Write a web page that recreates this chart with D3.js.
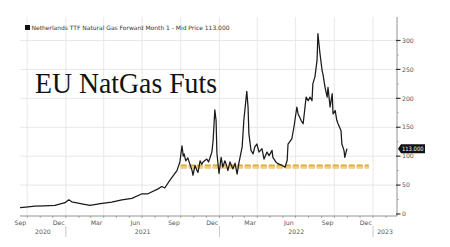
<!DOCTYPE html>
<html>
<head>
<meta charset="utf-8">
<script src="https://cdnjs.cloudflare.com/ajax/libs/d3/7.8.5/d3.min.js"></script>
<style>
  html, body { margin: 0; padding: 0; background: #fff; }
  svg { display: block; }
  .tick-label { font-family: "DejaVu Sans", sans-serif; font-size: 6.2px; fill: #555; }
</style>
</head>
<body>
<svg id="chart" width="450" height="247"></svg>
<script>
// ===== 데이터 =====
const dates = [
  "2020-09-14","2020-09-28","2020-10-19","2020-11-10","2020-12-06","2020-12-30",
  "2021-01-08","2021-01-15","2021-02-08","2021-02-27","2021-03-28","2021-04-20",
  "2021-05-14","2021-06-07","2021-07-01","2021-07-15","2021-08-08","2021-08-17",
  "2021-08-24","2021-09-05","2021-09-22","2021-09-29","2021-10-04","2021-10-07",
  "2021-10-09","2021-10-13","2021-10-18","2021-10-22","2021-10-28","2021-10-30",
  "2021-11-04","2021-11-08","2021-11-11","2021-11-16","2021-11-20","2021-11-23",
  "2021-12-02","2021-12-06","2021-12-09","2021-12-14","2021-12-17","2021-12-21",
  "2021-12-24","2021-12-26","2021-12-31","2022-01-05","2022-01-09","2022-01-14",
  "2022-01-18","2022-01-21","2022-01-26","2022-02-02","2022-02-07","2022-02-12",
  "2022-02-16","2022-02-24","2022-02-28","2022-03-07","2022-03-10","2022-03-12",
  "2022-03-17","2022-03-22","2022-03-26","2022-03-31","2022-04-05","2022-04-12",
  "2022-04-17","2022-04-24","2022-04-29","2022-05-06","2022-05-08","2022-05-15",
  "2022-05-20","2022-05-30","2022-06-06","2022-06-11","2022-06-13","2022-06-22",
  "2022-06-27","2022-07-04","2022-07-07","2022-07-14","2022-07-19","2022-07-26",
  "2022-07-31","2022-08-04","2022-08-09","2022-08-11","2022-08-16","2022-08-21",
  "2022-08-23","2022-08-28","2022-09-02","2022-09-04","2022-09-09","2022-09-14",
  "2022-09-16","2022-09-21","2022-09-26","2022-09-28","2022-10-03","2022-10-07",
  "2022-10-10","2022-10-17","2022-10-19","2022-10-24","2022-10-26","2022-10-31"
];
const prices = [
  11, 12, 13.5, 14, 15, 19.5,
  24.5, 21, 17.5, 15, 18.5, 20.5,
  24.5, 27, 35, 35, 43.5, 47.5,
  45, 58, 75, 90, 118, 100,
  104, 92, 97, 88, 75, 67,
  84, 76, 72, 92, 86, 90,
  95, 90, 96, 107, 127, 180,
  162, 105, 70, 98, 81, 92,
  84, 75, 90, 78, 88, 69,
  87, 116, 162, 212, 185, 139,
  110, 104, 116, 121, 107, 113,
  95, 107, 101, 110, 98, 90,
  87, 84, 81, 93, 121, 130,
  150, 185, 173, 162, 156, 202,
  196, 202, 196, 225, 237, 266,
  312, 277, 248, 242, 219, 202,
  219, 185, 208, 173, 179, 162,
  156, 144, 121, 110, 98, 113
];
const yTicks = [0, 50, 100, 150, 200, 250, 300];
const years = [2020, 2021, 2022, 2023];
const supportLevel = 82;               // 노란 점선 (지지선)
const supportRange = ["2021-10-01", "2022-12-22"];
const lastValue = 113;
const lastPrice = "113.000";
const titleText = "EU NatGas Futs";
const legendText = "Netherlands TTF Natural Gas Forward Month 1 - Mid Price 113.000";

// ===== 기본 설정 =====
const parse = d3.utcParse("%Y-%m-%d");
const svg = d3.select("#chart");
const plotLeft = 20, plotRight = 397, plotTop = 17, plotBottom = 216;

const x = d3.scaleUtc()
  .domain([parse("2020-09-14"), parse("2023-02-27")])
  .range([plotLeft, plotRight]);
const y = d3.scaleLinear().domain([0, 300]).range([214, 40.5]);

// 격자선 (분기 경계 세로선, 50 단위 가로선)
const grid = svg.append("g");
const quarterLines = d3.utcMonth.range(x.domain()[0], x.domain()[1])
  .filter(d => d.getUTCMonth() % 3 === 0);
grid.selectAll(".vg").data(quarterLines).join("line")
  .attr("x1", d => x(d)).attr("x2", d => x(d))
  .attr("y1", plotTop).attr("y2", plotBottom)
  .attr("stroke", "#e2e2e2").attr("stroke-width", 0.8);
grid.selectAll(".hg").data(yTicks.filter(v => v > 0)).join("line")
  .attr("x1", plotLeft).attr("x2", plotRight)
  .attr("y1", d => y(d)).attr("y2", d => y(d))
  .attr("stroke", "#e2e2e2").attr("stroke-width", 0.8);

// 범례
svg.append("rect").attr("x", 25).attr("y", 25).attr("width", 5).attr("height", 5).attr("fill", "#111");
svg.append("text").attr("x", 31.5).attr("y", 30)
  .attr("textLength", 198).attr("lengthAdjust", "spacingAndGlyphs")
  .style("font-family", "'DejaVu Sans', sans-serif").style("font-size", "6px").style("fill", "#333")
  .text(legendText);

// 제목
svg.append("text").attr("x", 35).attr("y", 93)
  .attr("textLength", 182).attr("lengthAdjust", "spacingAndGlyphs")
  .style("font-family", "'Liberation Serif', serif").style("font-size", "30px").style("fill", "#111")
  .text(titleText);

// 지지선 (노란 점선) - 진한 테두리 + 밝은 안쪽
const sx1 = x(parse(supportRange[0])), sx2 = x(parse(supportRange[1]));
svg.append("line")
  .attr("x1", sx1).attr("x2", sx2).attr("y1", y(supportLevel)).attr("y2", y(supportLevel))
  .attr("stroke", "#d9a93f").attr("stroke-width", 4)
  .attr("stroke-dasharray", "6,2");
svg.append("line")
  .attr("x1", sx1).attr("x2", sx2).attr("y1", y(supportLevel) + 0.4).attr("y2", y(supportLevel) + 0.4)
  .attr("stroke", "#f1cf6e").attr("stroke-width", 2)
  .attr("stroke-dasharray", "6,2");

// 가격 선
const series = dates.map((d, i) => ({ date: parse(d), value: prices[i] }));
svg.append("path").datum(series)
  .attr("fill", "none").attr("stroke", "#1a1a1a").attr("stroke-width", 1.25)
  .attr("stroke-linejoin", "round")
  .attr("d", d3.line().x(d => x(d.date)).y(d => y(d.value)));

// 축 선
svg.append("line").attr("x1", plotLeft).attr("x2", plotRight).attr("y1", plotBottom).attr("y2", plotBottom)
  .attr("stroke", "#777").attr("stroke-width", 0.8);
svg.append("line").attr("x1", plotRight).attr("x2", plotRight).attr("y1", plotTop).attr("y2", plotBottom)
  .attr("stroke", "#777").attr("stroke-width", 0.8);

// y축 눈금 (오른쪽)
const minor = d3.range(25, 325, 50);
svg.selectAll(".ymin").data(minor).join("line")
  .attr("x1", plotRight).attr("x2", plotRight + 2)
  .attr("y1", d => y(d)).attr("y2", d => y(d))
  .attr("stroke", "#888").attr("stroke-width", 0.6);
svg.selectAll(".ymaj").data(yTicks).join("line")
  .attr("x1", plotRight - 1).attr("x2", plotRight + 3.5)
  .attr("y1", d => y(d)).attr("y2", d => y(d))
  .attr("stroke", "#333").attr("stroke-width", 1.2);
svg.selectAll(".ylab").data(yTicks).join("text")
  .attr("class", "tick-label")
  .attr("x", plotRight + 5).attr("y", d => y(d) + 2.2)
  .text(d => d);

// 마지막 가격 태그
const py = y(lastValue);
svg.append("path")
  .attr("d", `M${plotRight + 1},${py} L${plotRight + 4},${py - 4.5} L${plotRight + 28},${py - 4.5} L${plotRight + 28},${py + 4.5} L${plotRight + 4},${py + 4.5} Z`)
  .attr("fill", "#111");
svg.append("text").attr("x", plotRight + 5).attr("y", py + 2.1)
  .attr("textLength", 21.5).attr("lengthAdjust", "spacingAndGlyphs")
  .style("font-family", "'DejaVu Sans', sans-serif").style("font-size", "6px").style("fill", "#fff")
  .text(lastPrice);

// x축 눈금: 매월 작은 눈금
const months = d3.utcMonth.range(x.domain()[0], x.domain()[1]);
svg.selectAll(".xmin").data(months).join("line")
  .attr("x1", d => x(d)).attr("x2", d => x(d))
  .attr("y1", plotBottom).attr("y2", plotBottom + 2)
  .attr("stroke", "#777").attr("stroke-width", 0.6);

// 월 라벨 (3개월마다, 월 중간에 위치) - 첫 달(Sep 2020)도 포함
const labelMonths = [d3.utcMonth.floor(x.domain()[0])].concat(months)
  .filter(d => d.getUTCMonth() % 3 === 2);
svg.selectAll(".xlab").data(labelMonths).join("text")
  .attr("class", "tick-label")
  .attr("text-anchor", "middle")
  .attr("x", d => x(d3.utcDay.offset(d, 14)))
  .attr("y", plotBottom + 9)
  .text(d3.utcFormat("%b"));

// 연도 라벨과 구분선
const yearStart = yr => Math.max(plotLeft, x(new Date(Date.UTC(yr, 0, 1))));
const yearEnd = yr => Math.min(plotRight, x(new Date(Date.UTC(yr + 1, 0, 1))));
svg.selectAll(".yrlab").data(years).join("text")
  .attr("class", "tick-label")
  .attr("text-anchor", "middle")
  .attr("x", d => (yearStart(d) + yearEnd(d)) / 2)
  .attr("y", plotBottom + 18)
  .text(d => d);
svg.selectAll(".ysep").data(years.slice(1)).join("line")
  .attr("x1", d => x(new Date(Date.UTC(d, 0, 1)))).attr("x2", d => x(new Date(Date.UTC(d, 0, 1))))
  .attr("y1", plotBottom + 10).attr("y2", plotBottom + 21)
  .attr("stroke", "#bbb").attr("stroke-width", 0.8);
</script>
</body>
</html>
